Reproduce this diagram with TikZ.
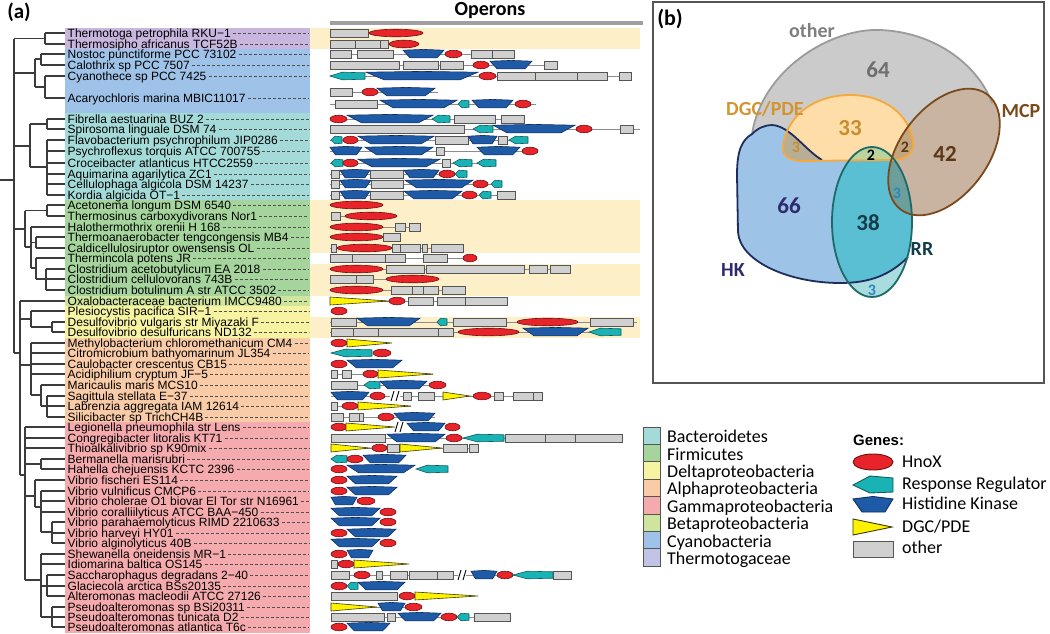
\documentclass[tikz,border=0pt]{standalone}
\usepackage{fontspec}
\setmainfont{Liberation Sans}
\newfontfamily\carl{Carlito}
\definecolor{treec}{HTML}{3C3C3C}
\definecolor{dashc}{HTML}{505050}
\definecolor{theC}{HTML}{C9B6DE}
\definecolor{theL}{HTML}{C2C3E6}
\definecolor{cyaC}{HTML}{9EC2E8}
\definecolor{bacC}{HTML}{A4DBD8}
\definecolor{firC}{HTML}{A5D59C}
\definecolor{betC}{HTML}{CFE49C}
\definecolor{delC}{HTML}{F6F3A2}
\definecolor{alpC}{HTML}{F9CCA7}
\definecolor{gamC}{HTML}{F5ABAD}
\definecolor{beigeC}{HTML}{FDF0C8}
\definecolor{hnoxc}{HTML}{E8232A}
\definecolor{hnoxe}{HTML}{6E1010}
\definecolor{hkc}{HTML}{1F5AA6}
\definecolor{hke}{HTML}{0F2F5F}
\definecolor{rrc}{HTML}{19B2B5}
\definecolor{rre}{HTML}{0E5E60}
\definecolor{dgcc}{HTML}{FFF200}
\definecolor{dgce}{HTML}{3A3A00}
\definecolor{boxc}{HTML}{D0D0D0}
\definecolor{edgec}{HTML}{555555}
\definecolor{bbc}{HTML}{8C8C8C}
\definecolor{barc}{HTML}{A0A0A0}
\definecolor{otherF}{HTML}{CBCBCB}
\definecolor{otherL}{HTML}{9B9B9B}
\definecolor{hkF}{HTML}{9DC3E6}
\definecolor{hkL}{HTML}{1F2D5C}
\definecolor{dgF}{HTML}{FEDDA9}
\definecolor{dgL}{HTML}{F6A93A}
\definecolor{hkdgF}{HTML}{B7AE95}
\definecolor{mcpF}{HTML}{C8B4A0}
\definecolor{mcpL}{HTML}{7A4A1C}
\definecolor{mcpdgF}{HTML}{C3A57E}
\definecolor{rrF}{HTML}{A8DCDF}
\definecolor{rrhkF}{HTML}{5BBFD4}
\definecolor{rrdgF}{HTML}{BAD49E}
\definecolor{rrmcpF}{HTML}{6C9E9C}
\definecolor{rrL}{HTML}{1C6B68}
\definecolor{tOther}{HTML}{7F7F7F}
\definecolor{t64}{HTML}{6E6E6E}
\definecolor{tDGC}{HTML}{D4952F}
\definecolor{t33}{HTML}{C98D2E}
\definecolor{tBrown}{HTML}{5A3818}
\definecolor{tNavy}{HTML}{2E2A6E}
\definecolor{tTeal}{HTML}{123C49}
\definecolor{tBlue}{HTML}{2E86C1}
\newcommand\Gbb[3]{\draw[bbs] (#1,#3) -- (#2,#3);}
\newcommand\Ggb[3]{\path[gbx] (#1,#3-4.2) rectangle (#2,#3+4.2);}
\newcommand\Ghx[3]{\pgfmathsetmacro\hxc{(#1+#2)/2}\pgfmathsetmacro\hxr{(#2-#1)/2}\path[hxs] (\hxc,#3) ellipse [x radius=\hxr pt, y radius=3.8pt];}
\newcommand\Ghk[3]{\pgfmathsetmacro\hki{min(0.17*(#2-#1),18)}\path[hks] (#1,#3-3.8) -- ({(#1+#2)/2},#3-4.6) -- (#2,#3-3.8) -- (#2-\hki,#3+3.8) -- (#1+\hki,#3+3.8) -- cycle;}
\newcommand\Grr[3]{\pgfmathsetmacro\rli{min(0.35*(#2-#1),14)}\path[rrs] (#1,#3) -- (#1+\rli,#3-3.8) -- (#2,#3-3.2) -- (#2,#3+3.2) -- (#1+\rli,#3+3.8) -- cycle;}
\newcommand\Gdg[3]{\path[dgs] (#1,#3-4) -- (#2,#3) -- (#1,#3+4) -- cycle;}
\newcommand\Gbrk[2]{\draw[line width=0.9pt] (#1-4,#2+5) -- (#1-1,#2-5) (#1+1,#2+5) -- (#1+4,#2-5);}
\def\OTp{(752,134) .. controls (762,70) and (830,28) .. (880,30) .. controls (935,32) and (978,65) .. (992,103) -- (985,115) -- (900,162) -- (800,162) -- (752,150) -- cycle}
\def\HKp{(752,134) .. controls (758,128) and (765,125) .. (772,125) .. controls (790,126) and (805,150) .. (822,160) -- (894,160) .. controls (906,180) and (912,205) .. (912,222) .. controls (912,237) and (910,248) .. (908,257) .. controls (890,275) and (870,283) .. (840,283) .. controls (790,283) and (740,262) .. (738,232) -- (737,175) .. controls (737,150) and (742,140) .. (752,134) -- cycle}
\def\DGCp{(800,161) .. controls (786,160) and (782,153) .. (783,146) .. controls (788,112) and (818,95) .. (850,95) .. controls (886,95) and (910,116) .. (913,142) .. controls (914,156) and (904,160) .. (890,160) -- cycle}
\def\MCPp{[rotate around={53:(944,152)}] (944,152) ellipse [x radius=72pt, y radius=44pt]}
\def\RRp{(872,222) ellipse [x radius=40pt, y radius=75pt]}
\begin{document}
\begin{tikzpicture}[x=1pt,y=-1pt,
  tree/.style={draw=treec,line width=1.1pt},
  lab/.style={anchor=base west,inner xsep=2pt,inner ysep=0pt,font=\fontsize{12}{13}\selectfont},
  dsh/.style={draw=dashc,line width=0.6pt,dash pattern=on 3pt off 2pt},
  gbx/.style={fill=boxc,draw=edgec,line width=0.6pt},
  hxs/.style={fill=hnoxc,draw=hnoxe,line width=0.6pt},
  hks/.style={fill=hkc,draw=hke,line width=0.6pt},
  rrs/.style={fill=rrc,draw=rre,line width=0.6pt},
  dgs/.style={fill=dgcc,draw=dgce,line width=0.6pt},
  bbs/.style={draw=bbc,line width=0.7pt},
  leg/.style={anchor=base west,inner sep=0pt,font=\carl\fontsize{18}{20}\selectfont},
  vbig/.style={font=\carl\bfseries\fontsize{23}{25}\selectfont,inner sep=0pt},
  vlab/.style={font=\carl\bfseries\fontsize{20}{22}\selectfont,inner sep=0pt},
  vsm/.style={font=\carl\bfseries\fontsize{16}{18}\selectfont,inner sep=0pt},
  vline/.style={line width=1.8pt},
]
\useasboundingbox (0,0) rectangle (1050,633);
% backgrounds of label panel
\fill[theC] (65,28) rectangle (310,49);
\fill[cyaC] (65,49) rectangle (310,113);
\fill[bacC] (65,113) rectangle (310,200);
\fill[firC] (65,200) rectangle (310,295.5);
\fill[betC] (65,295.5) rectangle (310,306);
\fill[delC] (65,306) rectangle (310,338);
\fill[alpC] (65,338) rectangle (310,422);
\fill[gamC] (65,422) rectangle (310,633);
% beige bands
\fill[beigeC] (310,28) rectangle (640,49);
\fill[beigeC] (310,200) rectangle (640,253);
\fill[beigeC] (310,264) rectangle (640,295.5);
\fill[beigeC] (310,317) rectangle (640,338);
% titles
\node[font=\carl\bfseries\fontsize{21}{23}\selectfont,inner sep=0pt] (ta) at (19,12) {(a)};
\node[font=\carl\bfseries\fontsize{20}{22}\selectfont,inner sep=0pt] (top) at (490,11) {Operons};
\fill[barc] (330,21) rectangle (643,25);
% tree
\draw[tree]
 (0,180) -- (14,180) (14,38.5) -- (14,353)
 (14,38.5) -- (45,38.5) (45,33) -- (45,44) (45,33) -- (65,33) (45,44) -- (65,44)
 (14,73) -- (35,73) (35,59) -- (35,87) (35,59) -- (41,59) (41,54) -- (41,65) (41,54) -- (65,54) (41,65) -- (65,65)
 (35,87) -- (45,87) (45,76) -- (45,98) (45,76) -- (65,76) (45,98) -- (65,98)
 (14,146) -- (30,146) (30,124) -- (30,167) (30,124) -- (47,124) (47,119) -- (47,129) (47,119) -- (65,119) (47,129) -- (65,129)
 (30,167) -- (47,167) (47,140) -- (47,195)
 (47,140) -- (65,140) (47,151) -- (65,151) (47,163) -- (65,163) (47,174) -- (65,174) (47,184) -- (65,184) (47,195) -- (65,195)
 (14,229) -- (25,229) (25,210.5) -- (25,247) (25,210.5) -- (47,210.5) (47,205) -- (47,216) (47,205) -- (65,205) (47,216) -- (65,216)
 (25,247) -- (31,247) (31,227) -- (31,268) (31,227) -- (65,227) (31,242.5) -- (36,242.5) (36,237) -- (36,248) (36,237) -- (65,237) (36,248) -- (65,248)
 (31,268) -- (36,268) (36,258) -- (36,279) (36,258) -- (65,258) (36,279) -- (46,279) (46,269) -- (46,290) (46,269) -- (65,269) (46,279) -- (65,279) (46,290) -- (65,290)
 (14,353) -- (20,353) (20,301) -- (20,475) (20,301) -- (65,301)
 (20,319) -- (31,319) (31,311) -- (31,327) (31,311) -- (65,311) (31,327) -- (52,327) (52,322) -- (52,332) (52,322) -- (65,322) (52,332) -- (65,332)
 (20,365) -- (31,365) (31,343) -- (31,395) (31,343) -- (65,343) (31,353) -- (65,353) (31,364) -- (65,364) (31,374) -- (65,374)
 (31,395) -- (41,395) (41,385) -- (41,406) (41,385) -- (65,385) (41,406) -- (47,406) (47,396) -- (47,417) (47,396) -- (65,396) (47,406) -- (65,406) (47,417) -- (65,417)
 (20,475) -- (25,475) (25,427) -- (25,580) (25,427) -- (65,427) (25,438) -- (65,438) (25,448) -- (65,448)
 (25,464) -- (41,464) (41,459) -- (41,469) (41,459) -- (65,459) (41,469) -- (65,469)
 (25,496) -- (35,496) (35,480) -- (35,507) (35,480) -- (65,480) (35,507) -- (41,507) (41,491) -- (41,532)
 (41,491) -- (65,491) (41,501) -- (65,501) (41,512) -- (65,512) (41,532) -- (52,532) (52,522) -- (52,543) (52,522) -- (65,522) (52,533) -- (65,533) (52,543) -- (65,543)
 (25,580) -- (41,580) (41,554) -- (41,617) (41,554) -- (65,554) (41,564) -- (65,564)
 (41,586) -- (47,586) (47,575) -- (47,596) (47,575) -- (65,575) (47,586) -- (65,586) (47,596) -- (65,596)
 (41,617) -- (52,617) (52,607) -- (52,627) (52,607) -- (65,607) (52,617) -- (65,617) (52,627) -- (65,627);
% species labels
\foreach \y/\t [count=\i] in {33/Thermotoga petrophila RKU−1, 44/Thermosipho africanus TCF52B, 54/Nostoc punctiforme PCC 73102, 65/Calothrix sp PCC 7507, 76/Cyanothece sp PCC 7425, 98/Acaryochloris marina MBIC11017, 119/Fibrella aestuarina BUZ 2, 129/Spirosoma linguale DSM 74, 140/Flavobacterium psychrophilum JIP0286, 151/Psychroflexus torquis ATCC 700755, 163/Croceibacter atlanticus HTCC2559, 174/Aquimarina agarilytica ZC1, 184/Cellulophaga algicola DSM 14237, 195/Kordia algicida OT−1, 205/Acetonema longum DSM 6540, 216/Thermosinus carboxydivorans Nor1, 227/Halothermothrix orenii H 168, 237/Thermoanaerobacter tengcongensis MB4, 248/Caldicellulosiruptor owensensis OL, 258/Thermincola potens JR, 269/Clostridium acetobutylicum EA 2018, 279/Clostridium cellulovorans 743B, 290/Clostridium botulinum A str ATCC 3502, 301/Oxalobacteraceae bacterium IMCC9480, 311/Plesiocystis pacifica SIR−1, 322/Desulfovibrio vulgaris str Miyazaki F, 332/Desulfovibrio desulfuricans ND132, 343/Methylobacterium chloromethanicum CM4, 353/Citromicrobium bathyomarinum JL354, 364/Caulobacter crescentus CB15, 374/Acidiphilium cryptum JF−5, 385/Maricaulis maris MCS10, 396/Sagittula stellata E−37, 406/Labrenzia aggregata IAM 12614, 417/Silicibacter sp TrichCH4B, 427/Legionella pneumophila str Lens, 438/Congregibacter litoralis KT71, 448/Thioalkalivibrio sp K90mix, 459/Bermanella marisrubri, 469/Hahella chejuensis KCTC 2396, 480/Vibrio fischeri ES114, 491/Vibrio vulnificus CMCP6, 501/Vibrio cholerae O1 biovar El Tor str N16961, 512/Vibrio coralliilyticus ATCC BAA−450, 522/Vibrio parahaemolyticus RIMD 2210633, 533/Vibrio harveyi HY01, 543/Vibrio alginolyticus 40B, 554/Shewanella oneidensis MR−1, 564/Idiomarina baltica OS145, 575/Saccharophagus degradans 2−40, 586/Glaciecola arctica BSs20135, 596/Alteromonas macleodii ATCC 27126, 607/Pseudoalteromonas sp BSi20311, 617/Pseudoalteromonas tunicata D2, 627/Pseudoalteromonas atlantica T6c}
{
  \node[lab] (s\i) at (65.5,\y+4.1) {\t};
  \coordinate (d\i) at (309,\y);
  \draw[dsh] (s\i.east |- d\i) -- (d\i);
}
% operons
\Ggb{330}{368}{33}\Ghx{369}{423}{33}
\Ggb{330}{355}{44}\Ggb{355}{380}{44}\Ggb{380}{388}{44}\Ghx{389}{419}{44}
\Gbb{330}{514}{54}\Ggb{330}{351}{54}\Ggb{357}{393}{54}\Ghk{403}{444}{54}\Ghx{445}{462}{54}\Ggb{471}{492}{54}\Ggb{492}{514}{54}
\Gbb{330}{557}{65}\Ggb{330}{399}{65}\Ggb{403}{438}{65}\Ggb{440}{463}{65}\Ghx{473}{489}{65}\Ghk{490}{532}{65}\Ggb{544}{557}{65}
\Gbb{330}{631}{76}\Grr{330}{365}{76}\Ghk{366}{478}{76}\Ghx{479}{496}{76}\Ggb{497}{535}{76}\Ggb{535}{577}{76}\Ggb{577}{607}{76}\Ggb{619}{631}{76}
\Gbb{330}{438}{92}\Ggb{330}{352}{92}\Ghk{377}{435}{92}\Ghx{362}{378}{92}
\Gbb{330}{536}{104}\Ggb{335}{377}{104}\Ghk{380}{457}{104}\Grr{458}{469}{104}\Ghk{472}{513}{104}\Ghx{515}{531}{104}
\Gbb{330}{524}{119}\Ghx{330}{347}{119}\Ghk{347}{433}{119}\Grr{432}{450}{119}\Ggb{454}{495}{119}\Ggb{501}{524}{119}
\Gbb{330}{640}{129}\Ggb{330}{464}{129}\Grr{473}{493}{129}\Ghk{493}{575}{129}\Ghx{576}{592}{129}\Ggb{620}{633}{129}
\Gbb{330}{528}{140}\Grr{331}{342}{140}\Ghx{343}{358}{140}\Ghk{358}{434}{140}\Ggb{435}{468}{140}\Ghk{468}{497}{140}\Ggb{498}{507}{140}\Grr{509}{528}{140}
\Gbb{330}{538}{151}\Ghk{330}{362}{151}\Ghk{365}{433}{151}\Ggb{436}{444}{151}\Ghk{477}{520}{151}\Ghx{522}{538}{151}
\Gbb{330}{496}{163}\Grr{331}{343}{163}\Ghx{343}{358}{163}\Ghk{358}{440}{163}\Ggb{442}{450}{163}\Grr{453}{472}{163}\Grr{477}{496}{163}
\Gbb{330}{467}{174}\Ggb{331}{339}{174}\Ghk{340}{370}{174}\Ggb{370}{403}{174}\Ghk{404}{439}{174}\Ghx{439}{455}{174}\Grr{455}{467}{174}
\Gbb{330}{502}{184}\Ggb{331}{339}{184}\Ghk{340}{371}{184}\Ggb{371}{403}{184}\Ghk{405}{473}{184}\Ghx{473}{488}{184}\Grr{491}{502}{184}
\Gbb{330}{515}{195}\Ggb{331}{339}{195}\Ghk{340}{370}{195}\Ggb{370}{403}{195}\Ghk{404}{462}{195}\Ghx{462}{477}{195}\Grr{479}{491}{195}\Ggb{497}{515}{195}
\Ghx{330}{383}{205}
\Gbb{331}{397}{216}\Ggb{331}{340}{216}\Ghx{345}{397}{216}
\Gbb{330}{420}{227}\Ghx{330}{383}{227}\Ggb{395}{405}{227}\Ggb{409}{420}{227}
\Ghx{330}{383}{237}\Ggb{383}{400}{237}
\Gbb{330}{463}{248}\Ggb{331}{336}{248}\Ghx{337}{392}{248}\Ggb{392}{400}{248}\Ggb{400}{420}{248}\Ggb{422}{427}{248}\Ggb{431}{463}{248}
\Gbb{330}{477}{258}\Ggb{330}{352}{258}\Ggb{352}{385}{258}\Ggb{385}{405}{258}\Ggb{423}{447}{258}\Ghx{463}{477}{258}
\Gbb{330}{570}{269}\Ghx{330}{383}{269}\Ggb{386}{424}{269}\Ggb{426}{524}{269}\Ggb{529}{547}{269}\Ggb{550}{570}{269}
\Gbb{330}{439}{279}\Ggb{330}{356}{279}\Ggb{356}{373}{279}\Ghx{386}{439}{279}
\Gbb{330}{465}{290}\Ghx{330}{383}{290}\Ggb{391}{412}{290}\Ggb{412}{423}{290}\Ggb{423}{438}{290}\Ggb{442}{465}{290}
\Gbb{330}{507}{301}\Gdg{330}{389}{301}\Ghx{389}{405}{301}\Ggb{408}{433}{301}\Ggb{437}{465}{301}\Ggb{465}{507}{301}
\Ghx{331}{347}{311}
\Gbb{330}{637}{322}\Ggb{331}{356}{322}\Ghk{357}{420}{322}\Grr{437}{447}{322}\Ggb{453}{506}{322}\Ghx{517}{578}{322}\Ggb{590}{633}{322}
\Gbb{330}{621}{332}\Ggb{331}{353}{332}\Ggb{353}{378}{332}\Ggb{378}{438}{332}\Ggb{438}{453}{332}\Ghx{458}{519}{332}\Ghk{523}{588}{332}\Grr{589}{621}{332}
\Ghx{331}{347}{343}\Gdg{347}{392}{343}
\Grr{331}{372}{353}\Ghx{373}{391}{353}
\Ghx{331}{347}{364}\Ghk{347}{402}{364}
\Gbb{331}{433}{374}\Ggb{331}{337}{374}\Ggb{342}{351}{374}\Ghx{363}{378}{374}\Gdg{378}{433}{374}
\Gbb{331}{446}{385}\Ggb{331}{357}{385}\Grr{364}{380}{385}\Ghk{380}{427}{385}\Ghx{429}{446}{385}
\Gbb{331}{390}{396}\Gbb{400}{542}{396}\Ghk{331}{369}{396}\Ghx{370}{385}{396}\Gbrk{395}{396}\Ggb{403}{411}{396}\Ggb{418}{434}{396}\Gdg{443}{470}{396}\Ghx{473}{491}{396}\Ggb{494}{503}{396}\Ggb{513}{533}{396}\Ggb{533}{542}{396}
\Gbb{331}{411}{406}\Ggb{331}{337}{406}\Ghx{342}{358}{406}\Gdg{358}{411}{406}
\Gbb{331}{435}{417}\Ggb{331}{343}{417}\Ggb{349}{359}{417}\Ggb{359}{363}{417}\Ghx{378}{394}{417}\Ghk{394}{435}{417}
\Ghx{331}{347}{427}\Gdg{346}{395}{427}\Gbrk{399}{427}\Ghk{407}{445}{427}\Ghx{445}{460}{427}
\Gbb{331}{622}{438}\Ggb{331}{385}{438}\Ghk{387}{445}{438}\Ghx{446}{462}{438}\Grr{463}{504}{438}\Ggb{505}{545}{438}\Ggb{545}{575}{438}\Ggb{575}{622}{438}
\Gbb{331}{478}{448}\Gdg{331}{370}{448}\Ghx{372}{387}{448}\Ggb{387}{399}{448}\Gdg{400}{442}{448}\Ggb{443}{467}{448}\Ggb{469}{478}{448}
\Grr{331}{347}{459}\Ghx{347}{363}{459}\Ghk{363}{406}{459}
\Ghx{331}{347}{469}\Ghk{347}{415}{469}\Grr{416}{448}{469}
\Ghx{331}{347}{480}\Ghk{347}{397}{480}
\Ghx{331}{347}{491}\Ghk{347}{397}{491}
\Ghk{331}{357}{501}\Ghx{357}{375}{501}
\Ghk{331}{380}{512}\Ghx{380}{396}{512}
\Ghk{331}{380}{522}\Ghx{380}{396}{522}
\Ghx{331}{347}{533}\Ghk{347}{396}{533}
\Ghk{331}{380}{543}\Ghx{380}{396}{543}
\Ghx{331}{347}{554}\Ghk{347}{373}{554}
\Ggb{331}{337}{564}\Ghx{338}{354}{564}\Gdg{354}{409}{564}
\Gbb{331}{458}{575}\Gbb{466}{571}{575}\Ggb{331}{349}{575}\Ghx{354}{370}{575}\Ggb{376}{382}{575}\Ggb{390}{407}{575}\Ggb{409}{437}{575}\Ggb{437}{453}{575}\Gbrk{462}{575}\Ghk{471}{497}{575}\Ghx{497}{513}{575}\Grr{513}{553}{575}\Ggb{553}{571}{575}
\Ghx{331}{347}{586}\Grr{347}{358}{586}\Ghk{358}{405}{586}
\Ggb{331}{397}{596}\Ghx{399}{415}{596}\Gdg{415}{478}{596}
\Gbb{331}{422}{607}\Gdg{331}{377}{607}\Ghk{378}{405}{607}\Ghx{405}{422}{607}
\Gbb{331}{510}{617}\Ggb{331}{384}{617}\Ggb{387}{395}{617}\Ghk{398}{441}{617}\Ghx{441}{457}{617}\Grr{457}{469}{617}\Ggb{474}{510}{617}
\Ghx{331}{347}{627}\Ghk{347}{390}{627}
% taxa legend
\foreach \c/\t [count=\i from 0] in {bacC/Bacteroidetes, firC/Firmicutes, delC/Deltaproteobacteria, alpC/Alphaproteobacteria, gamC/Gammaproteobacteria, betC/Betaproteobacteria, cyaC/Cyanobacteria, theL/Thermotogaceae}
{
  \pgfmathsetmacro\yy{427+17.4*\i}
  \path[fill=\c,draw=edgec,line width=0.9pt] (643,\yy) rectangle (660,\yy+17.4);
  \node[leg] (tx\i) at (667,\yy+15.6) {\t};
}
% genes legend
\node[anchor=base west,inner sep=0pt,font=\bfseries\fontsize{15}{17}\selectfont] (gh) at (853,445.4) {Genes:};
\path[hxs,line width=0.9pt] (873,462) ellipse [x radius=20pt, y radius=8pt];
\path[rrs,line width=0.9pt] (853,485) -- (870,476) -- (893,478) -- (893,492) -- (870,493) -- cycle;
\path[hks,line width=0.9pt] (853,499) -- (873,496.5) -- (893,499) -- (885,512) -- (862,512) -- cycle;
\path[dgs,line width=0.9pt] (853,519) -- (892,527) -- (853,535) -- cycle;
\path[gbx,line width=0.9pt] (853,541) rectangle (893,557);
\node[leg] (g1) at (902,467.8) {HnoX};
\node[leg] (g2) at (902,489.8) {Response Regulator};
\node[leg] (g3) at (902,509.8) {Histidine Kinase};
\node[leg] (g4) at (902,532.8) {DGC/PDE};
\node[leg] (g5) at (902,553.8) {other};
% Venn panel
\draw[draw=edgec,line width=1.5pt] (653,2) rectangle (1044,383);
\node[font=\carl\bfseries\fontsize{22}{24}\selectfont,inner sep=0pt] (tb) at (670,19) {(b)};
\fill[otherF] \OTp;
\fill[hkF] \HKp;
\fill[dgF] \DGCp;
\begin{scope}\clip \HKp; \fill[hkdgF] \DGCp; \end{scope}
\fill[mcpF] \MCPp;
\begin{scope}\clip \DGCp; \fill[mcpdgF] \MCPp; \end{scope}
\fill[rrF] \RRp;
\begin{scope}\clip \RRp; \fill[rrhkF] \HKp; \end{scope}
\begin{scope}\clip \RRp; \fill[rrdgF] \DGCp; \end{scope}
\begin{scope}\clip \RRp; \fill[rrmcpF] \MCPp; \end{scope}
\draw[vline,otherL] (752,134) .. controls (762,70) and (830,28) .. (880,30) .. controls (935,32) and (978,65) .. (992,103);
\draw[vline,hkL] (908,257) .. controls (890,275) and (870,283) .. (840,283) .. controls (790,283) and (740,262) .. (738,232) -- (737,175) .. controls (737,150) and (742,140) .. (752,134) .. controls (758,128) and (765,125) .. (772,125) .. controls (790,126) and (805,150) .. (822,160);
\draw[vline,dgL] \DGCp;
\draw[vline,rrL] \RRp;
\draw[vline,mcpL] \MCPp;
\node[vlab,text=tOther] (v1) at (812,31) {other};
\node[vbig,text=t64] (v2) at (878,70) {64};
\node[vlab,text=tDGC] (v3) at (765,109) {DGC/PDE};
\node[vbig,text=t33] (v4) at (850,128) {33};
\node[vsm,text=t33] (v5) at (796,147) {3};
\node[vsm,text=black] (v6) at (871,155) {2};
\node[vsm,text=tBrown] (v7) at (905,147) {2};
\node[vbig,text=tBrown] (v8) at (945,154) {42};
\node[vlab,text=mcpL] (v9) at (1021,111) {MCP};
\node[vbig,text=tNavy] (v10) at (789,206) {66};
\node[vbig,text=tTeal] (v11) at (868,223) {38};
\node[vsm,text=tBlue] (v12) at (897,193) {3};
\node[vlab,text=tTeal] (v13) at (922,249) {RR};
\node[vlab,text=tNavy] (v14) at (733,270) {HK};
\node[vsm,text=tBlue] (v15) at (872,290) {3};
\end{tikzpicture}
\end{document}
